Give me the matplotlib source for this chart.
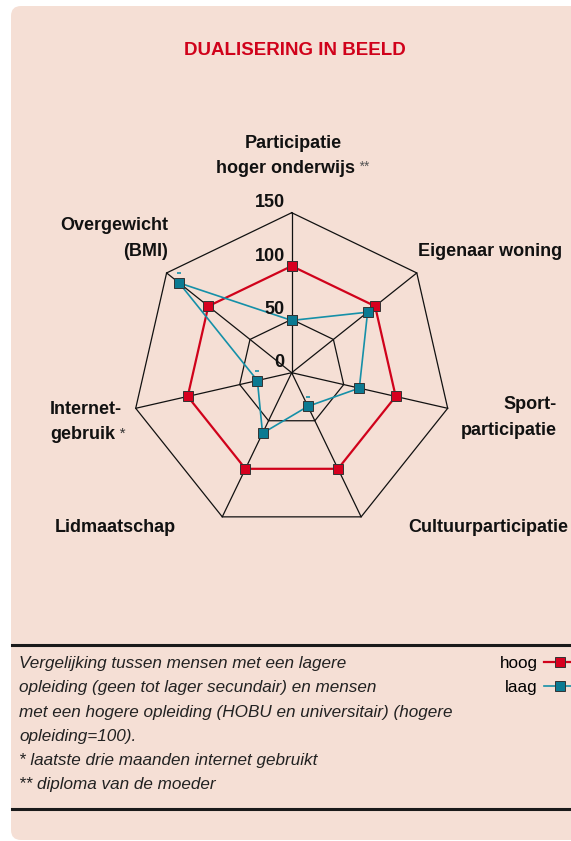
import numpy as np
import matplotlib.pyplot as plt
from matplotlib.lines import Line2D
from matplotlib.patches import FancyBboxPatch
from matplotlib.transforms import IdentityTransform, ScaledTranslation

# data: lager opgeleiden tegenover hoger opgeleiden (=100)
categories = ['Participatie hoger onderwijs', 'Eigenaar woning', 'Sportparticipatie',
              'Cultuurparticipatie', 'Lidmaatschap', 'Internetgebruik', 'Overgewicht (BMI)']
hoog = [100, 100, 100, 100, 100, 100, 100]
laag = [49, 91, 65, 35, 63, 33, 135]
laag_sig = [False, False, False, True, False, True, True]
rings = [50, 150]
rticks = [0, 50, 100, 150]

W, H = 571, 841
bg = '#f5dfd5'
red = '#d0021b'
teal = '#1590a8'
teal_fill = '#0b7a92'
ink = '#111111'
COND = ['Liberation Sans', 'DejaVu Sans']

plt.rcParams['font.family'] = ['Liberation Sans', 'DejaVu Sans']

fig = plt.figure(figsize=(W / 100, H / 100), dpi=100)
fig.patch.set_facecolor('white')

# rounded panel
panel = FancyBboxPatch((11, 1), 620, 834, boxstyle='round,pad=0,rounding_size=10',
                       transform=IdentityTransform(), facecolor=bg, edgecolor='none', zorder=0)
fig.add_artist(panel)


def P(x, y):
    return x / W, 1 - y / H


# radar
cx, cy, R = 291.7, 372.7, 160
ax = fig.add_axes([(cx - R) / W, (H - cy - R) / H, 2 * R / W, 2 * R / H], projection='polar')
ax.set_theta_offset(np.pi / 2)
ax.set_theta_direction(-1)
ax.set_ylim(0, 150)
ax.set_axis_off()

n = len(categories)
ang = np.arange(n) * 2 * np.pi / n
ang_c = np.append(ang, ang[0])

for r in rings:
    ax.plot(ang_c, [r] * (n + 1), color=ink, lw=0.9, clip_on=False, zorder=1)
for a in ang:
    ax.plot([a, a], [0, 150], color=ink, lw=0.9, clip_on=False, zorder=1)

lh, = ax.plot(ang_c, hoog + hoog[:1], color=red, lw=1.6, marker='s', ms=6.5,
              markerfacecolor='#d7001f', markeredgecolor='#333333', markeredgewidth=0.7,
              clip_on=False, zorder=3)
ll, = ax.plot(ang_c, laag + laag[:1], color=teal, lw=1.2, marker='s', ms=6.5,
              markerfacecolor=teal_fill, markeredgecolor='#333333', markeredgewidth=0.7,
              clip_on=False, zorder=4)

# kleine streepjes boven sommige punten
up = ax.transData + ScaledTranslation(0, 7 / 72, fig.dpi_scale_trans)
sa = [a for a, s in zip(ang, laag_sig) if s]
sv = [v for v, s in zip(laag, laag_sig) if s]
ax.plot(sa, sv, ls='none', marker='_', ms=3, mew=1.2, color=teal, transform=up,
        clip_on=False, zorder=4)

lab_tr = ax.transData + ScaledTranslation(-5 / 72, 1 / 72, fig.dpi_scale_trans)
for v in rticks:
    ax.text(0, v, str(v), transform=lab_tr, ha='right', va='bottom', fontsize=13,
            fontweight='bold', family=COND, color=ink, zorder=5)

# title
fig.text(*P(295, 55), 'DUALISERING IN BEELD', ha='center', va='baseline', fontsize=13.5,
         fontweight='bold', family=COND, color=red)

# axis labels
lab = dict(va='baseline', fontsize=13, fontweight='bold', family=COND, color=ink)
fig.text(*P(293, 148), 'Participatie', ha='center', **lab)
fig.text(*P(355, 173), 'hoger onderwijs', ha='right', **lab)
fig.text(*P(358, 171), '**', ha='left', va='baseline', fontsize=10, color='#555555',
         style='italic')
fig.text(*P(418, 256), 'Eigenaar woning', ha='left', **lab)
fig.text(*P(557, 409), 'Sport-', ha='right', **lab)
fig.text(*P(557, 435), 'participatie', ha='right', **lab)
fig.text(*P(408, 532), 'Cultuurparticipatie', ha='left', **lab)
fig.text(*P(55, 532), 'Lidmaatschap', ha='left', **lab)
fig.text(*P(50, 414), 'Internet-', ha='left', **lab)
fig.text(*P(50, 439), 'gebruik', ha='left', **lab)
fig.text(*P(118, 438), '*', ha='left', va='baseline', fontsize=11, color='#333333',
         style='italic')
fig.text(*P(168, 230), 'Overgewicht', ha='right', **lab)
fig.text(*P(168, 256), '(BMI)', ha='right', **lab)

# rules
for y in (645, 809):
    fig.add_artist(Line2D([12 / W, 1], [1 - y / H] * 2, color='#1a1a1a', lw=2.2))

notes = ['Vergelijking tussen mensen met een lagere',
         'opleiding (geen tot lager secundair) en mensen',
         'met een hogere opleiding (HOBU en universitair) (hogere',
         'opleiding=100).',
         '* laatste drie maanden internet gebruikt',
         '** diploma van de moeder']
for i, t in enumerate(notes):
    fig.text(*P(19, 668 + i * 24.3), t, ha='left', va='baseline', fontsize=12.3,
             style='italic', color='#222222')

fig.legend([lh, ll], ['hoog', 'laag'], markerfirst=False, frameon=False, fontsize=12.3,
           handlelength=1.95, handletextpad=0.35, labelspacing=0.5, borderpad=0,
           borderaxespad=0, loc='upper right', bbox_to_anchor=(577 / W, 1 - 656 / H))

fig.savefig('out.png', dpi=100, facecolor='white')
